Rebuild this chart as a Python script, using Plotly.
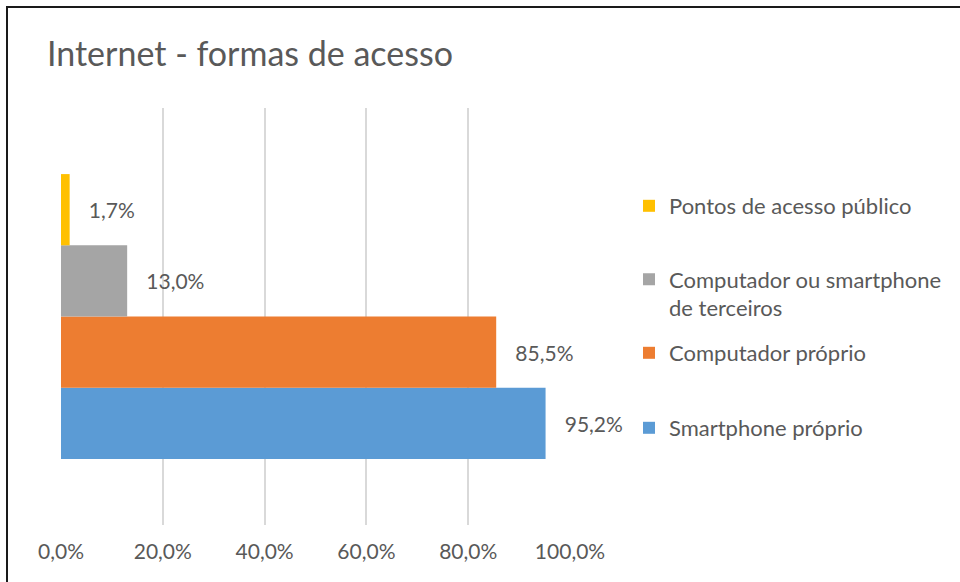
import plotly.graph_objects as go

categories = ["Internet"]
series_names = ["Smartphone próprio", "Computador próprio",
                "Computador ou smartphone<br>de terceiros", "Pontos de acesso público"]
series_values = [0.952, 0.855, 0.130, 0.017]
series_colors = ["#5B9BD5", "#ED7D31", "#A5A5A5", "#FFC000"]
tick_values = [0, 0.2, 0.4, 0.6, 0.8, 1.0]
tick_labels = ["0,0%", "20,0%", "40,0%", "60,0%", "80,0%", "100,0%"]

W, H = 960, 582
L, R, T, B = 61, 390, 108, 57
pw, ph = W - L - R, H - T - B

def px_to_paper_x(px):
    return (px - L) / pw

def px_to_paper_y(py):
    return (H - B - py) / ph

FONT = "Lato"
TXT = "#595959"

legend_ids = ["legend4", "legend3", "legend2", "legend"]
legend_centers = [428, 353, 294, 206]

fig = go.Figure()
for name, val, col, lid in zip(series_names, series_values, series_colors, legend_ids):
    fig.add_trace(go.Bar(
        y=categories, x=[val], name=name, orientation="h",
        marker=dict(color=col, line=dict(width=0)),
        text=[val], texttemplate="   %{x:.1%}", textposition="outside",
        textfont=dict(family=FONT, size=21, color=TXT),
        cliponaxis=False, legend=lid,
    ))

layout_legends = {}
for lid, cy in zip(legend_ids, legend_centers):
    layout_legends[lid] = dict(
        x=px_to_paper_x(629), xanchor="left",
        y=px_to_paper_y(cy), yanchor="middle",
        valign="top", bgcolor="rgba(0,0,0,0)",
        font=dict(family=FONT, size=22, color=TXT),
    )

fig.update_layout(
    width=W, height=H,
    margin=dict(l=L, r=R, t=T, b=B, pad=0),
    paper_bgcolor="white", plot_bgcolor="white",
    separators=",.",
    barmode="group", bargap=0.317, bargroupgap=0,
    showlegend=True,
    title=dict(text="Internet - formas de acesso", x=47 / W, xanchor="left",
               xref="container", y=1 - 54 / H, yanchor="middle", yref="container",
               font=dict(family=FONT, size=34, color=TXT)),
    xaxis=dict(range=[0, 1.0], tickvals=tick_values, ticktext=tick_labels,
               showgrid=True, gridcolor="#D9D9D9", gridwidth=1.5,
               zeroline=False, showline=False,
               ticks="outside", ticklen=8, tickcolor="rgba(0,0,0,0)",
               tickfont=dict(family=FONT, size=21, color=TXT)),
    yaxis=dict(type="category", range=[-0.5, 0.5], showticklabels=False,
               showgrid=False, zeroline=False, showline=False),
    shapes=[
        dict(type="line", xref="paper", yref="paper",
             x0=px_to_paper_x(7), x1=px_to_paper_x(7),
             y0=px_to_paper_y(6), y1=px_to_paper_y(582),
             line=dict(color="#1a1a1a", width=2)),
        dict(type="line", xref="paper", yref="paper",
             x0=px_to_paper_x(6), x1=px_to_paper_x(960),
             y0=px_to_paper_y(7), y1=px_to_paper_y(7),
             line=dict(color="#1a1a1a", width=2)),
    ],
    **layout_legends,
)

fig.write_html(
    "out.html",
    config={"displayModeBar": False},
    post_script="document.body.style.margin='0';document.body.style.overflow='hidden';",
)
